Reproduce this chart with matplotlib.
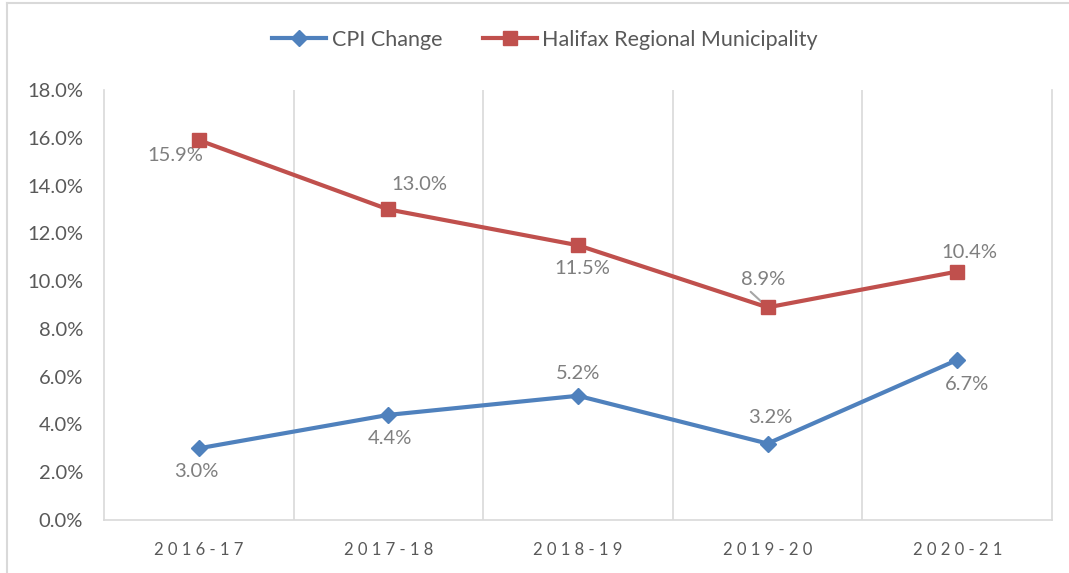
import matplotlib.pyplot as plt
from matplotlib.lines import Line2D

years = ["2016-17", "2017-18", "2018-19", "2019-20", "2020-21"]
cpi_change = [3.0, 4.4, 5.2, 3.2, 6.7]
halifax = [15.9, 13.0, 11.5, 8.9, 10.4]

# label offsets in points (dx, dy)
cpi_offsets = [(-2, -17), (1, -17), (0, 16), (2, 19), (7, -18)]
hfx_offsets = [(-17, -11), (22, 18), (3, -17), (-3, 20), (9, 14)]

plt.rcParams['font.family'] = ['Lato', 'DejaVu Sans']

blue = '#4F81BD'
red = '#C0504D'
grid = '#D9D9D9'

fig = plt.figure(figsize=(10.69, 5.73), dpi=100)
ax = fig.add_axes([104 / 1069, 1 - 520 / 573, 948 / 1069, 430 / 573])

x = list(range(len(years)))
ax.plot(x, cpi_change, color=blue, lw=3, marker='D', ms=8, label='CPI Change', zorder=3)
ax.plot(x, halifax, color=red, lw=3, marker='s', ms=10, label='Halifax Regional Municipality', zorder=3)

for xi, v, off in zip(x, cpi_change, cpi_offsets):
    ax.annotate(f"{v:.1f}%", (xi, v), xytext=off, textcoords='offset points',
                ha='center', va='center', fontsize=14.5, color='#7F7F7F')
for i, (xi, v, off) in enumerate(zip(x, halifax, hfx_offsets)):
    props = None
    if i == 3:
        props = dict(arrowstyle='-', color='#A6A6A6', lw=1.5, shrinkA=1, shrinkB=0,
                     relpos=(0.12, 0))
    ax.annotate(f"{v:.1f}%", (xi, v), xytext=off, textcoords='offset points',
                ha='center', va='center', fontsize=14.5, color='#7F7F7F',
                arrowprops=props, zorder=2)

ax.set_xlim(-0.5, len(years) - 0.5)
ax.set_ylim(0, 18)
ax.set_yticks(range(0, 19, 2))
ax.set_yticklabels([f"{t:.1f}%" for t in range(0, 19, 2)])
ax.set_xticks(x)
ax.set_xticklabels([" ".join(y) for y in years])
ax.tick_params(axis='both', length=0, colors='#595959')
ax.tick_params(axis='y', labelsize=14.5, pad=15)
ax.tick_params(axis='x', labelsize=12, pad=16)

for b in [0.5, 1.5, 2.5, 3.5]:
    ax.axvline(b, color=grid, lw=1.2, zorder=1)
ax.spines['top'].set_visible(False)
for s in ['left', 'bottom', 'right']:
    ax.spines[s].set_color(grid)
    ax.spines[s].set_linewidth(1.2)

fig.legend(loc='center', bbox_to_anchor=(0.51, 1 - 40 / 573), ncol=2, frameon=False,
           fontsize=15.5, handlelength=2.5, handletextpad=0.25, columnspacing=1.9,
           labelcolor='#595959')

# chart frame
fig.add_artist(Line2D([7 / 1069, 7 / 1069], [0, 1 - 3 / 573], transform=fig.transFigure,
                      color=grid, lw=1.5))
fig.add_artist(Line2D([7 / 1069, 1], [1 - 3 / 573, 1 - 3 / 573], transform=fig.transFigure,
                      color=grid, lw=1.5))

fig.savefig('out.png', dpi=100)
